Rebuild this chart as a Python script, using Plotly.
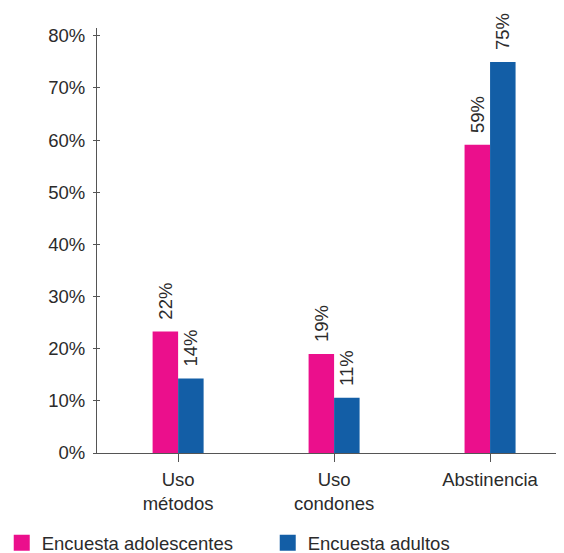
import plotly.graph_objects as go

categories = ["Uso<br>métodos", "Uso<br>condones", "Abstinencia"]
adolescentes = [23.3, 19.0, 59.1]
adultos = [14.3, 10.6, 75.0]
labels_adolescentes = ["22%", "19%", "59%"]
labels_adultos = ["14%", "11%", "75%"]
series_names = ["Encuesta adolescentes", "Encuesta adultos"]
y_ticks = [0, 10, 20, 30, 40, 50, 60, 70, 80]
y_tick_text = [f"{v}%" for v in y_ticks]

PINK = "#EB0F8C"
BLUE = "#135EA6"
FONT = "Liberation Sans, Arial, sans-serif"
TXT = "#2b2b2b"
AXC = "#555555"
FS = 18.5

pad = "\u00a0\u2009"

fig = go.Figure()
for name, vals, labs, col in [
    (series_names[0], adolescentes, labels_adolescentes, PINK),
    (series_names[1], adultos, labels_adultos, BLUE),
]:
    fig.add_trace(go.Bar(
        x=categories, y=vals, name=name, showlegend=False,
        marker=dict(color=col, line=dict(width=0)),
        text=[pad + t for t in labs], textposition="outside",
        textangle=-90, constraintext="none", cliponaxis=False,
        textfont=dict(family=FONT, size=FS, color=TXT),
    ))
# legend entries with larger square swatches
for name, col in [(series_names[0], PINK), (series_names[1], BLUE)]:
    fig.add_trace(go.Scatter(
        x=[None], y=[None], mode="markers", name=name,
        marker=dict(symbol="square", size=18, color=col, line=dict(width=0)),
        hoverinfo="skip",
    ))

fig.update_layout(
    width=556, height=545,
    margin=dict(l=89, r=0, t=20, b=100, autoexpand=False),
    paper_bgcolor="white", plot_bgcolor="white",
    barmode="group", bargap=0.673, bargroupgap=0,
    font=dict(family=FONT, size=FS, color=TXT),
    xaxis=dict(
        range=[-0.52, 2.474], showline=True, linecolor=AXC, linewidth=1.2,
        ticks="outside", ticklen=8, tickcolor=AXC, tickwidth=1,
        showgrid=False, zeroline=False, ticklabelstandoff=2, automargin=False,
        tickfont=dict(family=FONT, size=FS, color=TXT),
    ),
    yaxis=dict(
        range=[0, 81.5], showline=True, linecolor=AXC, linewidth=1.2,
        tickmode="array", tickvals=y_ticks, ticktext=y_tick_text,
        ticks="outside", ticklen=3, tickcolor=AXC, tickwidth=1,
        showgrid=False, zeroline=False, ticklabelstandoff=4, automargin=False,
        tickfont=dict(family=FONT, size=FS, color=TXT),
    ),
    yaxis2=dict(
        range=[0, 81.5], overlaying="y", side="left", matches="y",
        tickmode="array", tickvals=y_ticks, showticklabels=False,
        ticks="inside", ticklen=3, tickcolor=AXC, tickwidth=1,
        showgrid=False, zeroline=False, showline=False, automargin=False,
    ),
    showlegend=True,
    legend=dict(
        orientation="h", xref="paper", yref="paper",
        x=-0.204, y=-0.212, xanchor="left", yanchor="middle",
        entrywidth=221, entrywidthmode="pixels", itemsizing="trace",
        font=dict(family=FONT, size=FS, color=TXT),
        bgcolor="rgba(0,0,0,0)", borderwidth=0,
        itemclick=False, itemdoubleclick=False,
    ),
)
fig.add_trace(go.Scatter(x=[None], y=[None], yaxis="y2", showlegend=False, hoverinfo="skip"))

fig.write_html("out.html")
